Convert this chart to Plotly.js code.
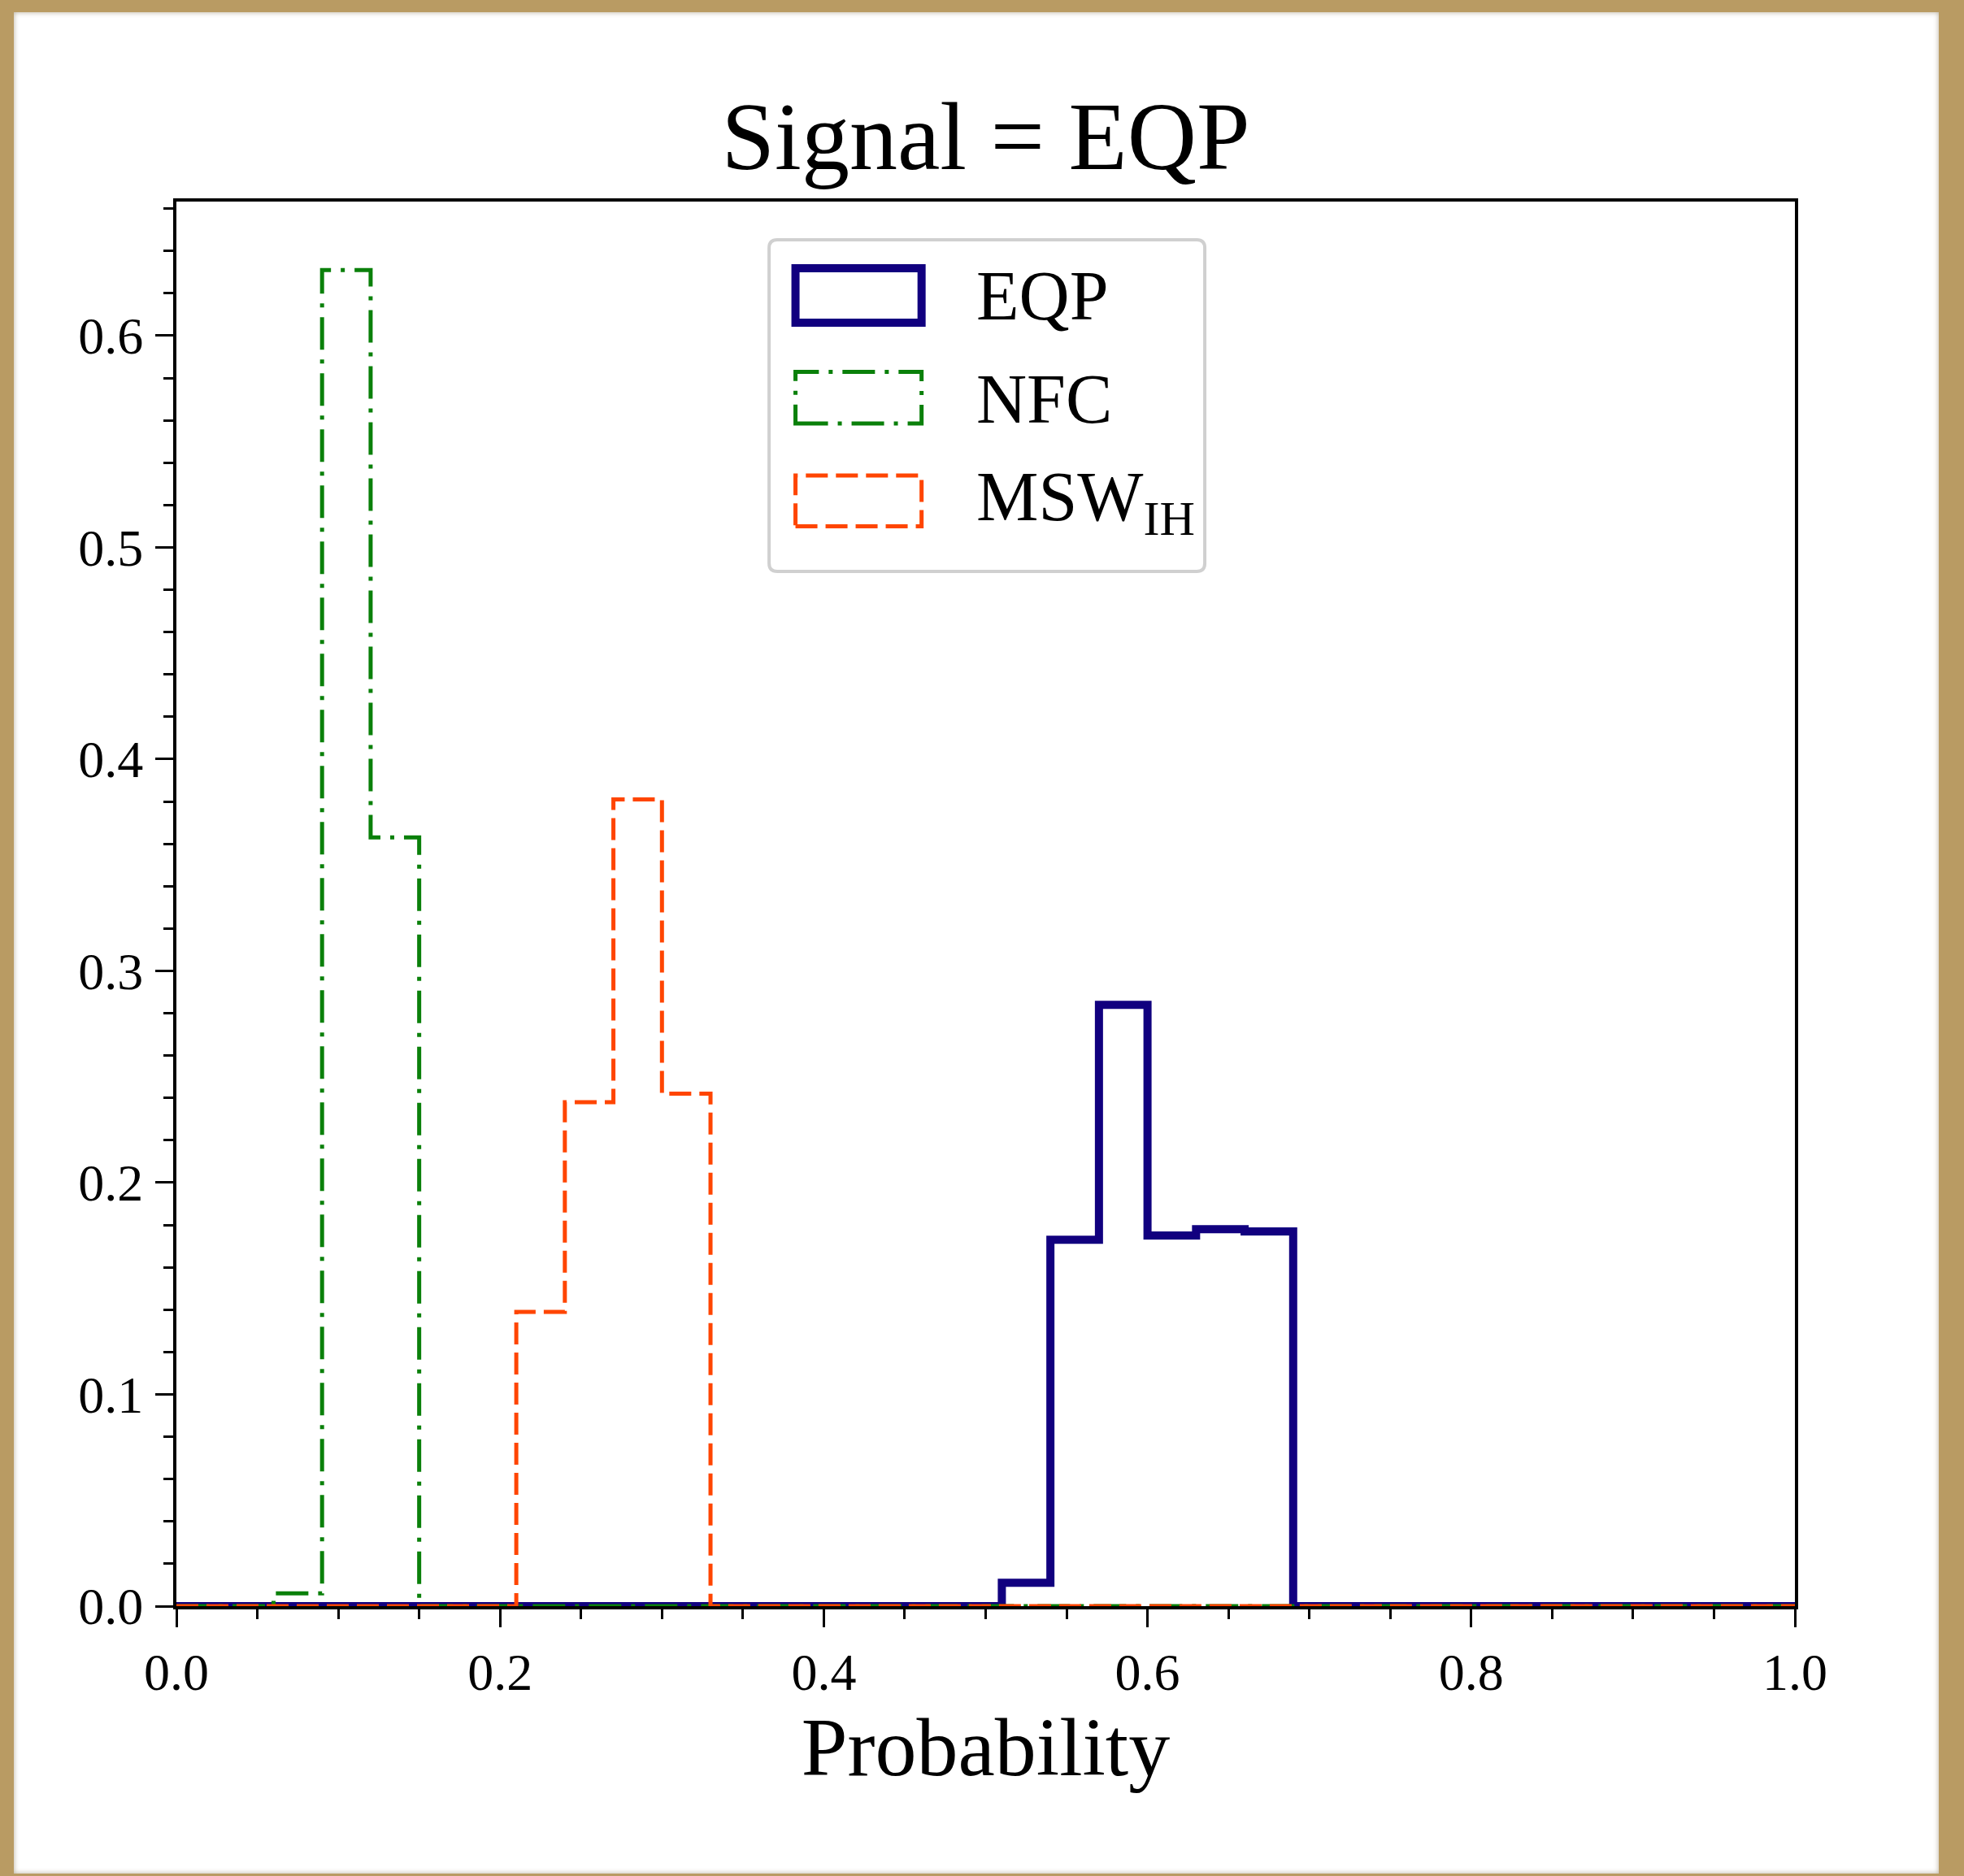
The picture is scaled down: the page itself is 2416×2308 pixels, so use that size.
<!DOCTYPE html>
<html>
<head>
<meta charset="utf-8">
<script src="https://cdn.plot.ly/plotly-3.0.1.min.js"></script>
<style>
  html, body { margin: 0; padding: 0; }
  body { width: 2416px; height: 2308px; background: #b99b63; position: relative; overflow: hidden; }
  #frame { position: absolute; left: 17px; top: 15px; width: 2368px; height: 2290px; background: #ffffff;
           box-shadow: inset 0 0 6px rgba(90,70,30,0.45); }
  #chart { position: absolute; left: 0; top: 0; width: 2368px; height: 2290px; }
</style>
</head>
<body>
<div id="frame"><div id="chart"></div></div>
<script>
// ---- data ----
const seriesNames = ["EQP", "NFC", "MSW<sub>IH</sub>"];
// bin edges (x, probability) of the non-empty bins, bin width 0.03
const eqpEdges = [0.51, 0.54, 0.57, 0.60, 0.63, 0.66, 0.69];
const eqpHeights = [0.011, 0.173, 0.284, 0.175, 0.178, 0.177];
const nfcEdges = [0.06, 0.09, 0.12, 0.15];
const nfcHeights = [0.006, 0.631, 0.363];
const mswEdges = [0.21, 0.24, 0.27, 0.30, 0.33];
const mswHeights = [0.139, 0.238, 0.381, 0.242];
const xRange = [0, 1];
const yRange = [0, 0.6633];
const xTickVals = [0.0, 0.2, 0.4, 0.6, 0.8, 1.0];
const yTickVals = [0.0, 0.1, 0.2, 0.3, 0.4, 0.5, 0.6];

const FONT = "Liberation Serif, Times New Roman, serif";

function stepTrace(edges, heights, name, color, width, dash) {
  const x = [xRange[0]].concat(edges).concat([xRange[1]]);
  const y = [0].concat(heights).concat([0, 0]);
  return {
    type: "scatter", mode: "lines", x: x, y: y, name: name,
    line: { shape: "hv", color: color, width: width, dash: dash },
    hoverinfo: "skip", showlegend: false
  };
}

const traces = [
  stepTrace(eqpEdges, eqpHeights, seriesNames[0], "#11007f", 10, "solid"),
  stepTrace(nfcEdges, nfcHeights, seriesNames[1], "#0a800a", 5, "40px,12px,5px,12px"),
  stepTrace(mswEdges, mswHeights, seriesNames[2], "#ff4500", 5, "27px,10px")
];

// legend drawn as patches (paper coordinates)
const lb = { x0: 0.3662, x1: 0.6354, y0: 0.7367, y1: 0.9728, rx: 0.005, ry: 0.0058 };
const boxPath = `M ${lb.x0+lb.rx},${lb.y1} L ${lb.x1-lb.rx},${lb.y1} Q ${lb.x1},${lb.y1} ${lb.x1},${lb.y1-lb.ry} ` +
  `L ${lb.x1},${lb.y0+lb.ry} Q ${lb.x1},${lb.y0} ${lb.x1-lb.rx},${lb.y0} L ${lb.x0+lb.rx},${lb.y0} ` +
  `Q ${lb.x0},${lb.y0} ${lb.x0},${lb.y0+lb.ry} L ${lb.x0},${lb.y1-lb.ry} Q ${lb.x0},${lb.y1} ${lb.x0+lb.rx},${lb.y1} Z`;

const legendRows = [
  { y0: 0.9138, y1: 0.9525, ty: 0.9329 },
  { y0: 0.8420, y1: 0.8788, ty: 0.8591 },
  { y0: 0.7688, y1: 0.8050, ty: 0.7862 }
];

const shapes = [
  { type: "path", xref: "paper", yref: "paper", path: boxPath,
    fillcolor: "rgba(255,255,255,0.8)", line: { color: "#d0d0d0", width: 4 } }
];
const annotations = [];
traces.forEach((t, i) => {
  const r = legendRows[i];
  shapes.push({ type: "rect", xref: "paper", yref: "paper",
    x0: 0.3825, x1: 0.4604, y0: r.y0, y1: r.y1,
    fillcolor: "rgba(0,0,0,0)",
    line: { color: t.line.color, width: t.line.width, dash: t.line.dash } });
  annotations.push({ xref: "paper", yref: "paper", x: 0.493, y: r.ty,
    xanchor: "left", yanchor: "middle", showarrow: false, text: t.name,
    font: { family: FONT, size: 86, color: "#000" } });
});

const axisCommon = {
  showline: true, mirror: true, linecolor: "#000", linewidth: 4,
  showgrid: false, zeroline: false,
  ticks: "outside", ticklen: 22, tickwidth: 3, tickcolor: "#000",
  tickformat: ".1f", tickmode: "array",
  tickfont: { family: FONT, size: 64, color: "#000" }
};

const layout = {
  width: 2368, height: 2290,
  margin: { l: 200, r: 177, t: 233, b: 329 },
  paper_bgcolor: "rgba(0,0,0,0)", plot_bgcolor: "#ffffff",
  showlegend: false,
  title: { text: "Signal = EQP", x: 0.5, xref: "paper", xanchor: "center",
           y: 0.9338, yref: "container", yanchor: "middle",
           font: { family: FONT, size: 118, color: "#000" } },
  xaxis: Object.assign({}, axisCommon, {
    range: xRange, tickvals: xTickVals, ticklabelstandoff: 0,
    minor: { dtick: 0.05, tick0: 0, ticks: "outside", ticklen: 12, tickwidth: 3, tickcolor: "#000", showgrid: false },
    title: { text: "Probability", standoff: 20, font: { family: FONT, size: 102, color: "#000" } }
  }),
  yaxis: Object.assign({}, axisCommon, {
    range: yRange, tickvals: yTickVals, ticklabelstandoff: 2,
    minor: { dtick: 0.02, tick0: 0, ticks: "outside", ticklen: 12, tickwidth: 3, tickcolor: "#000", showgrid: false }
  }),
  shapes: shapes,
  annotations: annotations
};

Plotly.newPlot("chart", traces, layout, { staticPlot: true, displayModeBar: false });
</script>
</body>
</html>
